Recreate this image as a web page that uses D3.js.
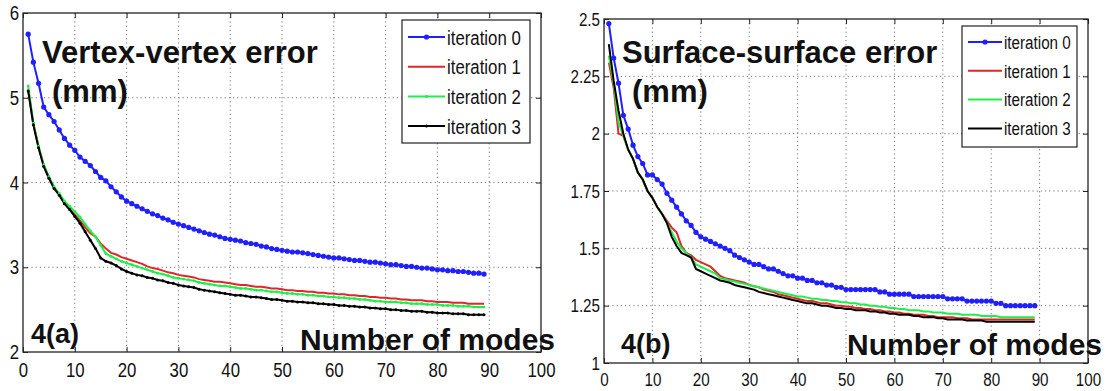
<!DOCTYPE html>
<html>
<head>
<meta charset="utf-8">
<script src="https://cdn.jsdelivr.net/npm/d3@7"></script>
<style>
  body { margin: 0; background: #fff; }
  svg { display: block; }
  .tick text { font-family: "Liberation Sans", Arial, sans-serif; fill: #111; }
  .grid line { stroke: #777; stroke-dasharray: 1.2 3; }
  .note { font-family: "Liberation Sans", Arial, sans-serif; font-weight: bold; fill: #111; }
  .leg { font-family: "Liberation Sans", Arial, sans-serif; fill: #111; }
</style>
</head>
<body>
<svg id="chart" width="1110" height="391"></svg>
<script>
var modes = d3.range(1, 90);
var seriesNames = ["iteration 0", "iteration 1", "iteration 2", "iteration 3"];

// panel 4(a): vertex-vertex error
var vv0 = [5.75,5.42,5.17,4.89,4.80,4.72,4.62,4.52,4.44,4.38,4.30,4.25,4.20,4.13,4.06,4.02,3.95,3.89,3.83,3.78,
  3.75,3.72,3.69,3.66,3.63,3.61,3.58,3.56,3.53,3.51,3.49,3.47,3.45,3.43,3.41,3.39,3.38,3.36,3.34,3.33,
  3.32,3.31,3.29,3.28,3.27,3.25,3.24,3.22,3.21,3.20,3.19,3.18,3.18,3.17,3.16,3.15,3.14,3.13,3.12,3.11,
  3.11,3.10,3.09,3.08,3.08,3.07,3.06,3.06,3.05,3.04,3.03,3.03,3.02,3.01,3.01,3.00,2.99,2.99,2.98,2.97,
  2.97,2.96,2.96,2.95,2.95,2.94,2.93,2.93,2.92];
var vv1 = [5.10,4.69,4.42,4.20,4.06,3.94,3.86,3.76,3.69,3.62,3.55,3.47,3.40,3.36,3.28,3.22,3.17,3.15,3.12,3.10,
  3.08,3.06,3.04,3.01,2.99,2.98,2.96,2.94,2.93,2.91,2.90,2.89,2.88,2.86,2.85,2.84,2.83,2.83,2.82,2.81,
  2.80,2.79,2.79,2.78,2.77,2.77,2.76,2.75,2.75,2.74,2.73,2.73,2.72,2.72,2.71,2.71,2.70,2.70,2.69,2.69,
  2.68,2.68,2.67,2.67,2.66,2.66,2.65,2.65,2.64,2.64,2.63,2.63,2.62,2.62,2.61,2.61,2.61,2.60,2.60,2.59,
  2.59,2.59,2.58,2.58,2.58,2.57,2.57,2.57,2.57];
var vv2 = [5.14,4.70,4.43,4.21,4.07,3.95,3.87,3.78,3.72,3.66,3.59,3.51,3.43,3.36,3.26,3.16,3.13,3.10,3.07,3.05,
  3.03,3.01,2.99,2.97,2.95,2.93,2.92,2.90,2.88,2.87,2.86,2.85,2.84,2.82,2.81,2.80,2.79,2.78,2.78,2.77,
  2.76,2.75,2.75,2.74,2.73,2.73,2.72,2.71,2.71,2.70,2.69,2.69,2.68,2.68,2.67,2.67,2.66,2.66,2.65,2.65,
  2.64,2.64,2.63,2.63,2.62,2.62,2.61,2.60,2.60,2.59,2.59,2.59,2.58,2.58,2.57,2.57,2.57,2.56,2.56,2.56,
  2.55,2.55,2.55,2.54,2.54,2.54,2.53,2.53,2.53];
var vv3 = [5.08,4.68,4.41,4.19,4.05,3.93,3.85,3.75,3.68,3.60,3.52,3.42,3.32,3.22,3.11,3.07,3.05,3.02,2.98,2.95,
  2.93,2.91,2.90,2.88,2.87,2.85,2.84,2.82,2.81,2.79,2.78,2.77,2.76,2.74,2.73,2.72,2.71,2.70,2.69,2.68,
  2.67,2.67,2.66,2.65,2.65,2.64,2.63,2.62,2.62,2.61,2.60,2.60,2.59,2.59,2.58,2.58,2.57,2.57,2.56,2.56,
  2.55,2.55,2.54,2.54,2.53,2.53,2.52,2.52,2.51,2.51,2.50,2.50,2.49,2.49,2.48,2.48,2.48,2.47,2.47,2.46,
  2.46,2.46,2.45,2.45,2.45,2.44,2.44,2.44,2.44];

// panel 4(b): surface-surface error
var ss0 = [2.48,2.33,2.22,2.08,2.02,1.95,1.90,1.87,1.82,1.82,1.80,1.78,1.74,1.71,1.68,1.65,1.62,1.60,1.57,1.55,
  1.54,1.53,1.52,1.51,1.50,1.49,1.47,1.46,1.45,1.44,1.43,1.43,1.42,1.41,1.41,1.40,1.39,1.38,1.38,1.37,
  1.37,1.36,1.36,1.35,1.35,1.34,1.34,1.33,1.33,1.32,1.32,1.32,1.32,1.32,1.32,1.32,1.31,1.31,1.30,1.30,
  1.30,1.30,1.30,1.29,1.29,1.29,1.29,1.29,1.29,1.29,1.28,1.28,1.28,1.28,1.27,1.27,1.27,1.27,1.27,1.27,
  1.26,1.26,1.25,1.25,1.25,1.25,1.25,1.25,1.25];
var ss1 = [2.31,2.20,2.00,1.99,1.93,1.89,1.83,1.80,1.75,1.72,1.68,1.65,1.62,1.59,1.57,1.51,1.48,1.47,1.45,1.44,
  1.43,1.42,1.40,1.38,1.37,1.365,1.36,1.355,1.35,1.34,1.335,1.33,1.32,1.315,1.31,1.30,1.295,1.29,1.285,1.28,
  1.275,1.27,1.27,1.265,1.26,1.26,1.255,1.25,1.25,1.245,1.245,1.24,1.24,1.235,1.235,1.23,1.23,1.225,1.225,1.22,
  1.22,1.215,1.215,1.21,1.21,1.21,1.205,1.205,1.20,1.20,1.20,1.20,1.195,1.195,1.195,1.19,1.19,1.19,1.19,1.19,
  1.19,1.19,1.19,1.19,1.19,1.19,1.19,1.19,1.19];
var ss2 = [2.34,2.22,2.05,1.99,1.93,1.89,1.83,1.80,1.75,1.72,1.68,1.65,1.61,1.57,1.53,1.50,1.48,1.46,1.43,1.42,
  1.41,1.40,1.39,1.37,1.365,1.36,1.355,1.35,1.345,1.34,1.335,1.33,1.325,1.32,1.315,1.31,1.305,1.30,1.295,1.29,
  1.29,1.285,1.28,1.28,1.275,1.275,1.27,1.27,1.265,1.265,1.26,1.26,1.255,1.255,1.25,1.25,1.245,1.245,1.24,1.24,
  1.235,1.235,1.23,1.23,1.23,1.225,1.225,1.22,1.22,1.22,1.215,1.215,1.215,1.21,1.21,1.21,1.21,1.205,1.205,1.205,
  1.205,1.20,1.20,1.20,1.20,1.20,1.20,1.20,1.20];
var ss3 = [2.39,2.23,2.10,2.00,1.93,1.89,1.83,1.80,1.75,1.72,1.68,1.65,1.61,1.55,1.51,1.48,1.47,1.46,1.41,1.40,
  1.39,1.38,1.37,1.36,1.355,1.35,1.34,1.335,1.33,1.325,1.32,1.31,1.305,1.30,1.295,1.29,1.285,1.28,1.275,1.27,
  1.265,1.26,1.26,1.255,1.25,1.25,1.245,1.24,1.24,1.235,1.235,1.23,1.23,1.23,1.225,1.225,1.22,1.22,1.215,1.215,
  1.21,1.21,1.21,1.205,1.205,1.20,1.20,1.20,1.195,1.195,1.19,1.19,1.19,1.19,1.185,1.185,1.185,1.185,1.18,1.18,
  1.18,1.18,1.18,1.18,1.18,1.18,1.18,1.18,1.18];

var xTicks = [0,10,20,30,40,50,60,70,80,90,100];
var yTicksA = [2,3,4,5,6];
var yTicksB = [1,1.25,1.5,1.75,2,2.25,2.5];

var colors = ["#1f1fff", "#e3242b", "#1cf04a", "#000"];

var svg = d3.select("#chart");

// the fonts in the picture are narrow; squeeze Liberation Sans horizontally
var squeeze = 0.8;

function drawPanel(p) {
  var x = d3.scaleLinear().domain([0, 100]).range([p.left, p.right]);
  var y = d3.scaleLinear().domain(p.yDomain).range([p.bottom, p.top]);
  var g = svg.append("g");

  // dotted grid
  var grid = g.append("g").attr("class", "grid");
  grid.selectAll(".gx").data(xTicks.slice(1, -1)).enter().append("line")
    .attr("x1", d => x(d)).attr("x2", d => x(d)).attr("y1", p.top).attr("y2", p.bottom);
  grid.selectAll(".gy").data(p.yTicks.slice(1, -1)).enter().append("line")
    .attr("x1", p.left).attr("x2", p.right).attr("y1", d => y(d)).attr("y2", d => y(d));

  // axes with inward ticks (matlab style)
  var ax = g.append("g").attr("transform", "translate(0," + p.bottom + ")")
    .call(d3.axisBottom(x).tickValues(xTicks).tickSizeInner(-5).tickSizeOuter(0).tickPadding(10));
  ax.selectAll("text").style("font-size", p.tickFont + "px")
    .attr("transform", "scale(" + squeeze + ",1)");
  var ay = g.append("g").attr("transform", "translate(" + p.left + ",0)")
    .call(d3.axisLeft(y).tickValues(p.yTicks).tickFormat(d => String(d)).tickSizeInner(-5).tickSizeOuter(0).tickPadding(5));
  ay.selectAll("text").style("font-size", p.tickFont + "px")
    .attr("transform", "scale(" + squeeze + ",1)");
  g.append("g").attr("transform", "translate(0," + p.top + ")")
    .call(d3.axisTop(x).tickValues(xTicks).tickSizeInner(-5).tickSizeOuter(0).tickFormat(""));
  g.append("g").attr("transform", "translate(" + p.right + ",0)")
    .call(d3.axisRight(y).tickValues(p.yTicks).tickSizeInner(-5).tickSizeOuter(0).tickFormat(""));
  g.selectAll(".domain").remove();
  g.selectAll(".tick line").attr("stroke", "#222");

  g.append("rect").attr("x", p.left).attr("y", p.top)
    .attr("width", p.right - p.left).attr("height", p.bottom - p.top)
    .attr("fill", "none").attr("stroke", "#222").attr("stroke-width", 1.3);

  // series
  var line = d3.line().x((d, i) => x(modes[i])).y(d => y(d));
  p.series.forEach(function(s, k) {
    g.append("path").datum(s).attr("d", line)
      .attr("fill", "none").attr("stroke", colors[k]).attr("stroke-width", 2);
  });
  p.series.forEach(function(s, k) {
    if (!p.markers[k]) return;
    g.selectAll(".m" + k).data(s).enter().append("circle")
      .attr("cx", (d, i) => x(modes[i])).attr("cy", d => y(d))
      .attr("r", p.markers[k]).attr("fill", colors[k]);
  });

  // annotations
  g.append("text").attr("class", "note").attr("x", p.titleX).attr("y", p.titleY)
    .style("font-size", "31px").text(p.title);
  g.append("text").attr("class", "note").attr("x", p.titleX + 10).attr("y", p.titleY + 39)
    .style("font-size", "31px").text("(mm)");
  g.append("text").attr("class", "note").attr("x", p.tagX).attr("y", p.tagY)
    .style("font-size", "27px").text(p.tag);
  g.append("text").attr("class", "note").attr("x", p.xlabX).attr("y", p.xlabY)
    .style("font-size", "30px").text("Number of modes");

  // legend
  var L = p.legend;
  var leg = g.append("g");
  leg.append("rect").attr("x", L.x).attr("y", L.y).attr("width", L.w).attr("height", L.h)
    .attr("fill", "#fff").attr("stroke", "#222").attr("stroke-width", 1.2);
  seriesNames.forEach(function(name, k) {
    var cy = L.y + L.first + k * L.step;
    leg.append("line").attr("x1", L.x + 6).attr("x2", L.x + 6 + L.lineW)
      .attr("y1", cy).attr("y2", cy).attr("stroke", colors[k]).attr("stroke-width", 2);
    if (p.markers[k]) {
      leg.append("circle").attr("cx", L.x + 6 + L.lineW / 2).attr("cy", cy)
        .attr("r", p.markers[k]).attr("fill", colors[k]);
    }
    leg.append("text").attr("class", "leg")
      .attr("transform", "translate(" + (L.x + 8 + L.lineW) + "," + (cy + L.font * 0.36) + ") scale(" + squeeze + ",1)")
      .style("font-size", L.font + "px").text(name);
  });
}

drawPanel({
  left: 23, right: 541, top: 13, bottom: 352, yDomain: [2, 6], yTicks: yTicksA, tickFont: 21,
  series: [vv0, vv1, vv2, vv3], markers: [2.6, 0, 1.4, 1.5],
  title: "Vertex-vertex error", titleX: 42, titleY: 63, tag: "4(a)", tagX: 31, tagY: 343,
  xlabX: 300, xlabY: 350,
  legend: { x: 402, y: 20, w: 128, h: 123, first: 17, step: 29.7, lineW: 37, font: 21 }
});

drawPanel({
  left: 604, right: 1088, top: 19, bottom: 363, yDomain: [1, 2.5], yTicks: yTicksB, tickFont: 19,
  series: [ss0, ss1, ss2, ss3], markers: [2.6, 0, 0, 0],
  title: "Surface-surface error", titleX: 622, titleY: 63, tag: "4(b)", tagX: 621, tagY: 353,
  xlabX: 847, xlabY: 355,
  legend: { x: 962, y: 26, w: 115, h: 121, first: 16, step: 28.8, lineW: 34, font: 19 }
});
</script>
</body>
</html>
